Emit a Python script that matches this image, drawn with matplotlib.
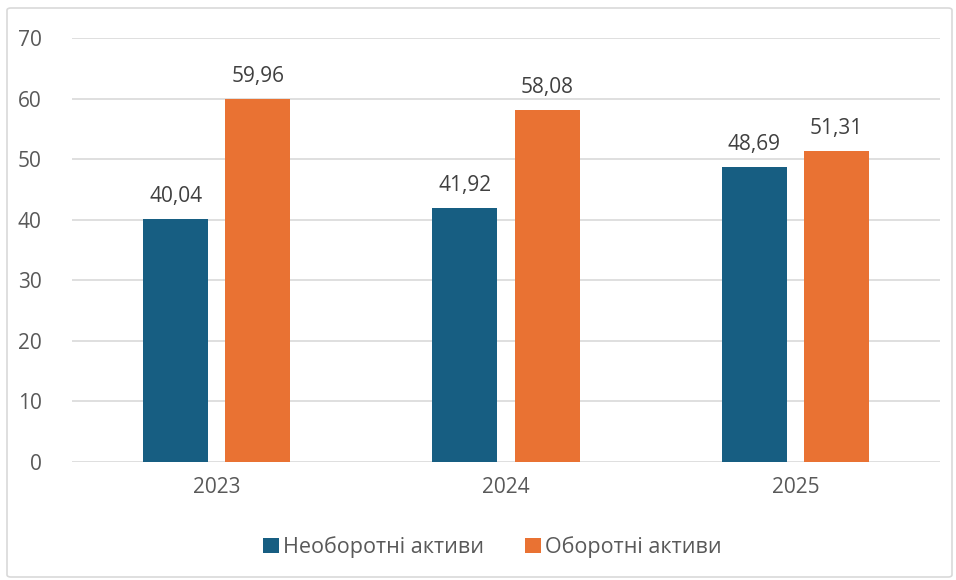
import matplotlib
matplotlib.use('agg')
import matplotlib.pyplot as plt
import numpy as np
from matplotlib.patches import FancyBboxPatch

years = ['2023', '2024', '2025']
neoborotni = [40.04, 41.92, 48.69]
oborotni = [59.96, 58.08, 51.31]
labels = ['Необоротні активи', 'Оборотні активи']

blue = '#175e82'
orange = '#e97233'
txt = '#595959'

plt.rcParams['font.family'] = ['Open Sans', 'DejaVu Sans']

fig = plt.figure(figsize=(9.56, 5.8), dpi=100)
fig.patches.append(FancyBboxPatch((7 / 956, 3 / 580), 945 / 956, 569 / 580,
                                  boxstyle='round,pad=0,rounding_size=0.004',
                                  transform=fig.transFigure, fill=False,
                                  edgecolor='#d9d9d9', linewidth=1.2))
ax = fig.add_axes([72 / 956, 1 - 462 / 580, 868 / 956, 424 / 580])

x = np.arange(len(years))
w = 0.225
off = 0.142
b1 = ax.bar(x - off, neoborotni, w, color=blue, label=labels[0])
b2 = ax.bar(x + off, oborotni, w, color=orange, label=labels[1])

for bars, vals in ((b1, neoborotni), (b2, oborotni)):
    for b, v in zip(bars, vals):
        ax.text(b.get_x() + b.get_width() / 2, v + 2.0, f'{v:.2f}'.replace('.', ','),
                ha='center', va='bottom', fontsize=15, color='#404040')

ax.set_xlim(-0.5, 2.5)
ax.set_ylim(0, 70)
ax.set_yticks(range(0, 71, 10))
ax.set_xticks(x)
ax.set_xticklabels(years)
ax.grid(axis='y', color='#d9d9d9', linewidth=1.2)
ax.set_axisbelow(True)
for s in ax.spines.values():
    s.set_visible(False)
ax.tick_params(length=0, labelsize=15, colors=txt)
ax.tick_params(axis='y', pad=22)
ax.tick_params(axis='x', pad=11)

leg = fig.legend(loc='center', bbox_to_anchor=(0.515, 1 - 547 / 580), ncol=2,
                 frameon=False, fontsize=15.5, handlelength=0.75, handleheight=0.75,
                 handletextpad=0.2, columnspacing=1.9)
for t in leg.get_texts():
    t.set_color(txt)

fig.savefig('out.png', dpi=100)
